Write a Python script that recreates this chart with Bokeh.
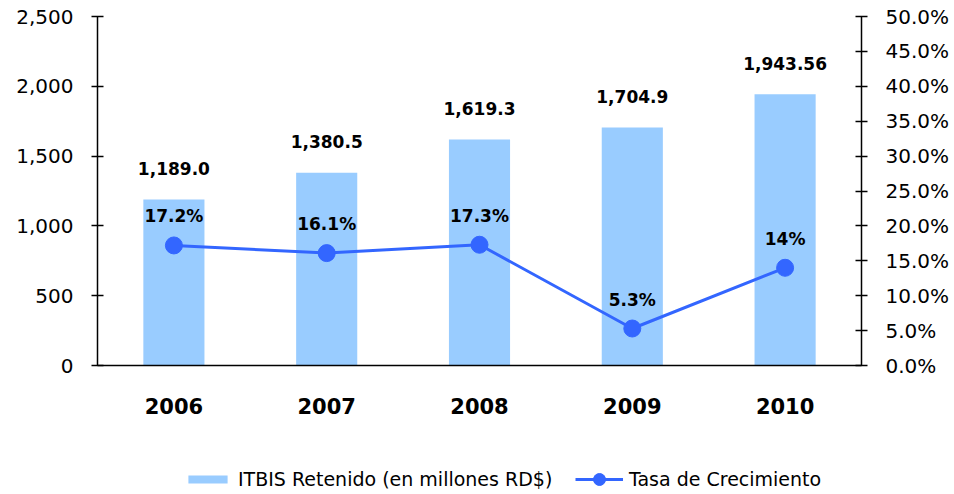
from bokeh.plotting import figure
from bokeh.layouts import column
from bokeh.models import (ColumnDataSource, FactorRange, Range1d, LinearAxis, NumeralTickFormatter,
                          SingleIntervalTicker, Legend, LegendItem, LabelSet)
from bokeh.core.properties import value
from bokeh.embed import file_html
from bokeh.resources import INLINE

years = ["2006", "2007", "2008", "2009", "2010"]
itbis = [1189.0, 1380.5, 1619.3, 1704.9, 1943.56]
itbis_labels = ["1,189.0", "1,380.5", "1,619.3", "1,704.9", "1,943.56"]
growth = [0.172, 0.161, 0.173, 0.053, 0.14]
growth_labels = ["17.2%", "16.1%", "17.3%", "5.3%", "14%"]
series_names = ["ITBIS Retenido (en millones RD$)", "Tasa de Crecimiento"]

BAR = "#99CCFF"
LINE = "#3366FF"
FONT = "DejaVu Sans"

src = ColumnDataSource(dict(x=years, y=itbis, yl=itbis_labels, g=growth, gl=growth_labels))

W = 952
p = figure(width=W, height=450, x_range=FactorRange(*years, range_padding=0),
           y_range=Range1d(0, 2500), output_backend="svg", toolbar_location=None,
           min_border_left=97, min_border_right=W - 861, min_border_top=16, min_border_bottom=85)
p.extra_y_ranges = {"pct": Range1d(0, 0.5)}
p.outline_line_color = None
p.grid.visible = False

p.vbar(x="x", top="y", width=0.4, source=src, fill_color=BAR, line_color=None)
p.line(x="x", y="g", source=src, y_range_name="pct", line_color=LINE, line_width=3)
p.scatter(x="x", y="g", source=src, y_range_name="pct", size=17, fill_color=LINE, line_color=LINE)

p.add_layout(LabelSet(x="x", y="y", text="yl", source=src, text_align="center", text_baseline="middle",
                      y_offset=31, text_font=value(FONT), text_font_size=value("17px"),
                      text_font_style=value("bold"), text_color=value("black")))
p.add_layout(LabelSet(x="x", y="g", text="gl", source=src, y_range_name="pct", text_align="center",
                      text_baseline="middle", y_offset=29, text_font=value(FONT),
                      text_font_size=value("17px"), text_font_style=value("bold"),
                      text_color=value("black")))

ax = p.yaxis[0]
ax.ticker = SingleIntervalTicker(interval=500)
ax.formatter = NumeralTickFormatter(format="0,0")

ax2 = LinearAxis(y_range_name="pct", ticker=SingleIntervalTicker(interval=0.05),
                 formatter=NumeralTickFormatter(format="0.0%"))
p.add_layout(ax2, "right")

for a in [ax, ax2]:
    a.major_tick_in = 6
    a.major_tick_out = 6
    a.minor_tick_line_color = None
    a.axis_line_width = 1.5
    a.major_tick_line_width = 1.5
    a.axis_line_color = "black"
    a.major_tick_line_color = "black"
    a.major_label_text_font = FONT
    a.major_label_text_font_size = "20px"
    a.major_label_text_color = "black"
    a.major_label_standoff = 18

xa = p.xaxis[0]
xa.major_tick_line_color = None
xa.minor_tick_line_color = None
xa.axis_line_width = 1.5
xa.axis_line_color = "black"
xa.major_label_text_font = FONT
xa.major_label_text_font_size = "21px"
xa.major_label_text_font_style = "bold"
xa.major_label_text_color = "black"
xa.major_label_standoff = 26

# legend strip below the chart; its renderers use the real data but lie far outside this strip's view
lf = figure(width=W, height=44, output_backend="svg", toolbar_location=None,
            min_border=0, x_range=FactorRange(*years), y_range=Range1d(1e6, 1e6 + 1))
lf.outline_line_color = None
lf.axis.visible = False
lf.grid.visible = False
lb = lf.vbar(x="x", top="y", width=0.4, source=src, fill_color=BAR, line_color=None)
ll = lf.line(x="x", y="g", source=src, line_color=LINE, line_width=3)
ls = lf.scatter(x="x", y="g", source=src, size=13, fill_color=LINE, line_color=LINE)

common = dict(orientation="horizontal", border_line_color=None, background_fill_alpha=0,
              label_text_font=FONT, label_text_font_size="19px", label_text_color="black",
              margin=0, padding=0, label_standoff=6)
leg1 = Legend(items=[LegendItem(label=series_names[0], renderers=[lb])],
              location=(86, 4), glyph_width=49, glyph_height=10, **common)
leg2 = Legend(items=[LegendItem(label=series_names[1], renderers=[ll, ls])],
              location=(478, 0), glyph_width=48, glyph_height=30, **common)
lf.add_layout(leg1, "center")
lf.add_layout(leg2, "center")

open("out.html", "w").write(file_html(column(p, lf, spacing=0), INLINE))
